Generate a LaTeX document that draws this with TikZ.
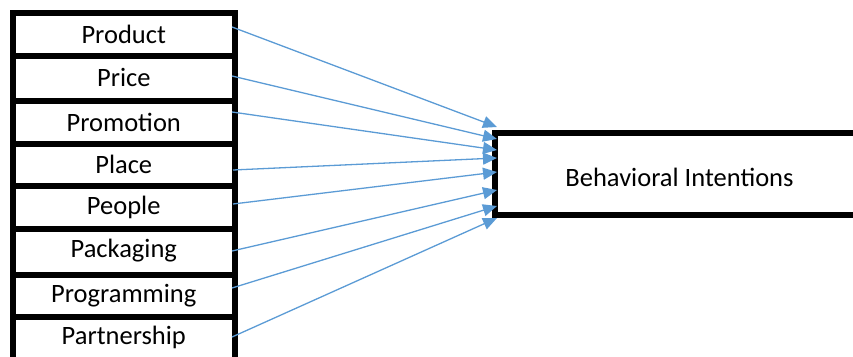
\documentclass[tikz,border=0pt]{standalone}
\usepackage{fontspec}
\setmainfont{Carlito}
\usetikzlibrary{arrows.meta}
\definecolor{arrblue}{RGB}{91,155,213}
\begin{document}
\begin{tikzpicture}[x=1pt,y=-1pt,
  frame/.style={line width=6pt,line cap=rect,black},
  lbl/.style={font=\fontsize{26.5}{30}\selectfont,inner sep=0pt,anchor=center},
  conn/.style={arrblue,line width=1.3pt,-{Triangle[length=14pt,width=12pt]}}]
\useasboundingbox (0,0) rectangle (853,356);
% left column frame
\draw[frame] (13,13) -- (13,362);
\draw[frame] (234.5,13) -- (234.5,362);
\foreach \y in {13,55.5,101,144,185.5,229,275,316.5}
  \draw[frame] (13,\y) -- (234.5,\y);
% right box frame
\draw[frame] (495,133) -- (495,214.5);
\draw[frame] (495,133) -- (860,133);
\draw[frame] (495,214.5) -- (860,214.5);
% labels
\node[lbl] (product) at (123.75,34) {Product};
\node[lbl] (price) at (123.75,77) {Price};
\node[lbl] (promotion) at (123.75,122.5) {Promotion};
\node[lbl] (place) at (123.75,164.5) {Place};
\node[lbl] (people) at (123.75,207.5) {People};
\node[lbl] (packaging) at (123.75,251) {Packaging};
\node[lbl] (programming) at (123.75,296) {Programming};
\node[lbl] (partnership) at (123.75,337.5) {Partnership};
\node[lbl] (bi) at (679.5,177) {Behavioral Intentions};
% arrow end points
\coordinate (s1) at (232,27);
\coordinate (s2) at (232,76);
\coordinate (s3) at (232,112);
\coordinate (s4) at (233,170);
\coordinate (s5) at (233,204);
\coordinate (s6) at (232,251);
\coordinate (s7) at (232,288);
\coordinate (s8) at (232,337);
\coordinate (t1) at (497,127);
\coordinate (t2) at (497,139);
\coordinate (t3) at (497,150);
\coordinate (t4) at (497,158);
\coordinate (t5) at (497,172);
\coordinate (t6) at (497,190);
\coordinate (t7) at (497,206);
\coordinate (t8) at (497,218);
\foreach \i in {1,...,8}
  \draw[conn] (s\i) -- (t\i);
\end{tikzpicture}
\end{document}
